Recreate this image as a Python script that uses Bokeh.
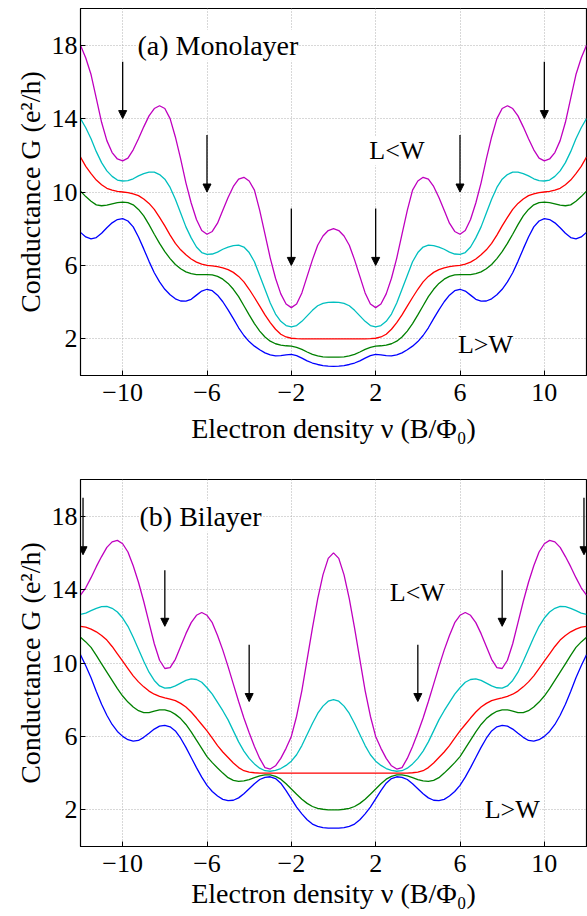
from bokeh.plotting import figure
from bokeh.layouts import column
from bokeh.models import Label, Arrow, NormalHead, FixedTicker, ColumnDataSource, Range1d
from bokeh.embed import file_html
from bokeh.resources import INLINE

# ---------------- data ----------------
nu = [-12.0, -11.75, -11.5, -11.25, -11.0, -10.75, -10.5, -10.25, -10.0, -9.75, -9.5, -9.25,
      -9.0, -8.75, -8.5, -8.25, -8.0, -7.75, -7.5, -7.25, -7.0, -6.75, -6.5, -6.25,
      -6.0, -5.75, -5.5, -5.25, -5.0, -4.75, -4.5, -4.25, -4.0, -3.75, -3.5, -3.25,
      -3.0, -2.75, -2.5, -2.25, -2.0, -1.75, -1.5, -1.25, -1.0, -0.75, -0.5, -0.25,
      0.0, 0.25, 0.5, 0.75, 1.0, 1.25, 1.5, 1.75, 2.0, 2.25, 2.5, 2.75,
      3.0, 3.25, 3.5, 3.75, 4.0, 4.25, 4.5, 4.75, 5.0, 5.25, 5.5, 5.75,
      6.0, 6.25, 6.5, 6.75, 7.0, 7.25, 7.5, 7.75, 8.0, 8.25, 8.5, 8.75,
      9.0, 9.25, 9.5, 9.75, 10.0, 10.25, 10.5, 10.75, 11.0, 11.25, 11.5, 11.75, 12.0]

# (a) Monolayer
mono_magenta = [18.0, 17.3, 16.4, 15.1, 13.8, 12.8, 12.15, 11.8, 11.7, 11.85, 12.3, 12.9, 13.55, 14.15, 14.55, 14.7,
                14.55, 14.0, 13.0, 11.8, 10.5, 9.4, 8.5, 7.9, 7.7, 7.85, 8.3, 9.0, 9.7, 10.3, 10.7, 10.8,
                10.6, 10.1, 9.0, 7.7, 6.4, 5.3, 4.45, 3.9, 3.7, 3.9, 4.5, 5.4, 6.3, 7.1, 7.6, 7.9, 8.0,
                7.9, 7.6, 7.1, 6.3, 5.4, 4.5, 3.9, 3.7, 3.9, 4.45, 5.3, 6.4, 7.7, 9.0, 10.1, 10.6,
                10.8, 10.7, 10.3, 9.7, 9.0, 8.3, 7.85, 7.7, 7.9, 8.5, 9.4, 10.5, 11.8, 13.0, 14.0, 14.55,
                14.7, 14.55, 14.15, 13.55, 12.9, 12.3, 11.85, 11.7, 11.8, 12.15, 12.8, 13.8, 15.1, 16.4, 17.3, 18.0]
mono_cyan = [14.0, 13.5, 12.9, 12.2, 11.6, 11.15, 10.85, 10.65, 10.6, 10.62, 10.72, 10.88, 11.0, 11.08, 11.08, 10.95,
             10.7, 10.25, 9.6, 8.85, 8.1, 7.5, 7.0, 6.7, 6.6, 6.62, 6.72, 6.88, 7.0, 7.08, 7.1, 7.0,
             6.7, 6.2, 5.45, 4.7, 3.95, 3.35, 2.95, 2.72, 2.65, 2.72, 2.95, 3.25, 3.55, 3.8, 3.93, 3.99, 4.0,
             3.99, 3.93, 3.8, 3.55, 3.25, 2.95, 2.72, 2.65, 2.72, 2.95, 3.35, 3.95, 4.7, 5.45, 6.2, 6.7,
             7.0, 7.1, 7.08, 7.0, 6.88, 6.72, 6.62, 6.6, 6.7, 7.0, 7.5, 8.1, 8.85, 9.6, 10.25, 10.7,
             10.95, 11.08, 11.08, 11.0, 10.88, 10.72, 10.62, 10.6, 10.65, 10.85, 11.15, 11.6, 12.2, 12.9, 13.5, 14.0]
mono_red = [11.9, 11.4, 11.0, 10.65, 10.4, 10.2, 10.1, 10.03, 10.0, 9.97, 9.9, 9.8, 9.62, 9.38, 9.05, 8.62,
            8.15, 7.65, 7.2, 6.85, 6.58, 6.35, 6.18, 6.07, 6.0, 5.97, 5.93, 5.87, 5.77, 5.62, 5.4, 5.1,
            4.7, 4.25, 3.78, 3.3, 2.88, 2.52, 2.25, 2.1, 2.03, 2.01, 2.0, 2.0, 2.0, 2.0, 2.0, 2.0, 2.0,
            2.0, 2.0, 2.0, 2.0, 2.0, 2.0, 2.01, 2.03, 2.1, 2.25, 2.52, 2.88, 3.3, 3.78, 4.25, 4.7,
            5.1, 5.4, 5.62, 5.77, 5.87, 5.93, 5.97, 6.0, 6.07, 6.18, 6.35, 6.58, 6.85, 7.2, 7.65, 8.15,
            8.62, 9.05, 9.38, 9.62, 9.8, 9.9, 9.97, 10.0, 10.03, 10.1, 10.2, 10.4, 10.65, 11.0, 11.4, 11.9]
mono_green = [10.05, 9.75, 9.5, 9.3, 9.25, 9.28, 9.35, 9.42, 9.45, 9.42, 9.3, 9.05, 8.7, 8.22, 7.7, 7.2,
              6.75, 6.37, 6.05, 5.82, 5.65, 5.55, 5.5, 5.5, 5.5, 5.48, 5.4, 5.25, 5.02, 4.7, 4.3, 3.8,
              3.3, 2.83, 2.42, 2.1, 1.87, 1.73, 1.66, 1.62, 1.6, 1.53, 1.42, 1.28, 1.15, 1.07, 1.02, 1.0, 1.0,
              1.0, 1.02, 1.07, 1.15, 1.28, 1.42, 1.53, 1.6, 1.62, 1.66, 1.73, 1.87, 2.1, 2.42, 2.83, 3.3,
              3.8, 4.3, 4.7, 5.02, 5.25, 5.4, 5.48, 5.5, 5.5, 5.5, 5.55, 5.65, 5.82, 6.05, 6.37, 6.75,
              7.2, 7.7, 8.22, 8.7, 9.05, 9.3, 9.42, 9.45, 9.42, 9.35, 9.28, 9.25, 9.3, 9.5, 9.75, 10.05]
mono_blue = [7.8, 7.55, 7.45, 7.52, 7.75, 8.05, 8.32, 8.5, 8.55, 8.42, 8.1, 7.55, 6.9, 6.22, 5.6, 5.1,
             4.7, 4.4, 4.18, 4.06, 4.05, 4.15, 4.38, 4.6, 4.7, 4.62, 4.38, 4.02, 3.58, 3.1, 2.6, 2.18,
             1.85, 1.6, 1.4, 1.23, 1.12, 1.07, 1.08, 1.12, 1.15, 1.08, 0.95, 0.8, 0.68, 0.6, 0.54, 0.51, 0.5,
             0.51, 0.54, 0.6, 0.68, 0.8, 0.95, 1.08, 1.15, 1.12, 1.08, 1.07, 1.12, 1.23, 1.4, 1.6, 1.85,
             2.18, 2.6, 3.1, 3.58, 4.02, 4.38, 4.62, 4.7, 4.6, 4.38, 4.15, 4.05, 4.06, 4.18, 4.4, 4.7,
             5.1, 5.6, 6.22, 6.9, 7.55, 8.1, 8.42, 8.55, 8.5, 8.32, 8.05, 7.75, 7.52, 7.45, 7.55, 7.8]

# (b) Bilayer
bi_magenta = [13.7, 14.1, 14.65, 15.25, 15.8, 16.3, 16.6, 16.68, 16.5, 16.05, 15.3, 14.4, 13.35, 12.2, 11.05, 10.15,
              9.7, 9.75, 10.2, 10.9, 11.6, 12.2, 12.6, 12.75, 12.6, 12.2, 11.5, 10.7, 9.8, 8.85, 7.9, 7.0,
              6.2, 5.45, 4.8, 4.3, 4.22, 4.4, 4.8, 5.35, 6.0, 7.1, 8.5, 10.2, 11.9, 13.5, 14.8, 15.7, 16.0,
              15.7, 14.8, 13.5, 11.9, 10.2, 8.5, 7.1, 6.0, 5.35, 4.8, 4.4, 4.22, 4.3, 4.8, 5.45, 6.2,
              7.0, 7.9, 8.85, 9.8, 10.7, 11.5, 12.2, 12.6, 12.75, 12.6, 12.2, 11.6, 10.9, 10.2, 9.75, 9.7,
              10.15, 11.05, 12.2, 13.35, 14.4, 15.3, 16.05, 16.5, 16.68, 16.6, 16.3, 15.8, 15.25, 14.65, 14.1, 13.7]
bi_cyan = [12.65, 12.72, 12.85, 12.98, 13.07, 13.08, 12.98, 12.78, 12.45, 12.0, 11.4, 10.75, 10.1, 9.5, 9.05, 8.75,
           8.63, 8.65, 8.75, 8.9, 9.05, 9.13, 9.1, 8.95, 8.65, 8.3, 7.85, 7.4, 6.9, 6.3, 5.7, 5.2,
           4.8, 4.5, 4.27, 4.13, 4.1, 4.15, 4.25, 4.42, 4.65, 5.0, 5.5, 6.1, 6.7, 7.25, 7.65, 7.92, 8.0,
           7.92, 7.65, 7.25, 6.7, 6.1, 5.5, 5.0, 4.65, 4.42, 4.25, 4.15, 4.1, 4.13, 4.27, 4.5, 4.8,
           5.2, 5.7, 6.3, 6.9, 7.4, 7.85, 8.3, 8.65, 8.95, 9.1, 9.13, 9.05, 8.9, 8.75, 8.65, 8.63,
           8.75, 9.05, 9.5, 10.1, 10.75, 11.4, 12.0, 12.45, 12.78, 12.98, 13.08, 13.07, 12.98, 12.85, 12.72, 12.65]
bi_red = [12.0, 11.95, 11.85, 11.7, 11.5, 11.25, 10.9, 10.5, 10.1, 9.7, 9.3, 8.97, 8.7, 8.47, 8.3, 8.18,
          8.1, 8.03, 7.95, 7.8, 7.6, 7.33, 7.0, 6.65, 6.3, 5.9, 5.5, 5.15, 4.85, 4.55, 4.3, 4.13,
          4.05, 4.02, 4.0, 4.0, 4.0, 4.0, 4.0, 4.0, 4.0, 4.0, 4.0, 4.0, 4.0, 4.0, 4.0, 4.0, 4.0,
          4.0, 4.0, 4.0, 4.0, 4.0, 4.0, 4.0, 4.0, 4.0, 4.0, 4.0, 4.0, 4.0, 4.0, 4.02, 4.05,
          4.13, 4.3, 4.55, 4.85, 5.15, 5.5, 5.9, 6.3, 6.65, 7.0, 7.33, 7.6, 7.8, 7.95, 8.03, 8.1,
          8.18, 8.3, 8.47, 8.7, 8.97, 9.3, 9.7, 10.1, 10.5, 10.9, 11.25, 11.5, 11.7, 11.85, 11.95, 12.0]
bi_green = [11.4, 11.15, 10.85, 10.42, 9.95, 9.5, 9.05, 8.6, 8.2, 7.87, 7.6, 7.4, 7.3, 7.3, 7.38, 7.45,
            7.45, 7.37, 7.2, 6.97, 6.65, 6.25, 5.8, 5.35, 4.9, 4.57, 4.28, 4.0, 3.75, 3.6, 3.55, 3.58,
            3.65, 3.75, 3.85, 3.9, 3.9, 3.82, 3.67, 3.42, 3.13, 2.85, 2.58, 2.35, 2.18, 2.08, 2.03, 2.0, 2.0,
            2.0, 2.03, 2.08, 2.18, 2.35, 2.58, 2.85, 3.13, 3.42, 3.67, 3.82, 3.9, 3.9, 3.85, 3.75, 3.65,
            3.58, 3.55, 3.6, 3.75, 4.0, 4.28, 4.57, 4.9, 5.35, 5.8, 6.25, 6.65, 6.97, 7.2, 7.37, 7.45,
            7.45, 7.38, 7.3, 7.3, 7.4, 7.6, 7.87, 8.2, 8.6, 9.05, 9.5, 9.95, 10.42, 10.85, 11.15, 11.4]
bi_blue = [10.45, 9.85, 9.2, 8.45, 7.75, 7.15, 6.65, 6.27, 6.0, 5.82, 5.74, 5.78, 5.95, 6.17, 6.4, 6.56,
           6.6, 6.52, 6.3, 5.9, 5.4, 4.85, 4.3, 3.78, 3.33, 3.0, 2.75, 2.57, 2.5, 2.52, 2.65, 2.88,
           3.15, 3.42, 3.65, 3.77, 3.8, 3.7, 3.45, 3.05, 2.6, 2.15, 1.78, 1.46, 1.22, 1.1, 1.03, 1.0, 1.0,
           1.0, 1.03, 1.1, 1.22, 1.46, 1.78, 2.15, 2.6, 3.05, 3.45, 3.7, 3.8, 3.77, 3.65, 3.42, 3.15,
           2.88, 2.65, 2.52, 2.5, 2.57, 2.75, 3.0, 3.33, 3.78, 4.3, 4.85, 5.4, 5.9, 6.3, 6.52, 6.6,
           6.56, 6.4, 6.17, 5.95, 5.78, 5.74, 5.82, 6.0, 6.27, 6.65, 7.15, 7.75, 8.45, 9.2, 9.85, 10.45]

# arrows: x position, start (top) and tip values
mono_arrow_x = [-10, -6, -2, 2, 6, 10]
mono_arrow_top = [17.1, 13.1, 9.1, 9.1, 13.1, 17.1]
mono_arrow_tip = [14.0, 10.0, 6.0, 6.0, 10.0, 14.0]
bi_arrow_x = [-11.88, -8, -4, 4, 8, 11.88]
bi_arrow_top = [19.0, 15.05, 11.0, 11.0, 15.05, 19.0]
bi_arrow_tip = [15.9, 12.0, 7.9, 7.9, 12.0, 15.9]

x_ticks = [-10, -6, -2, 2, 6, 10]
y_ticks = [2, 6, 10, 14, 18]
x_tick_labels = {-10: "\u221210", -6: "\u22126", -2: "\u22122", 2: "2", 6: "6", 10: "10"}

colors = {"blue": "#0000ff", "green": "#008000", "red": "#ff0000",
          "cyan": "#00bfbf", "magenta": "#bf00bf"}

FONT = "'Liberation Serif', 'Times New Roman', Times, serif"


def make_panel(curves, ax, atop, atip, texts, top, bottom, tick_standoff, label_standoff):
    p = figure(width=587, height=top + 367 + bottom,
               x_range=Range1d(-12, 12), y_range=Range1d(0, 20),
               output_backend="svg", toolbar_location=None,
               min_border_left=80, min_border_right=1,
               min_border_top=top, min_border_bottom=bottom,
               background_fill_color="white", border_fill_color="white")
    p.outline_line_color = "black"
    p.outline_line_width = 1.2
    p.outline_line_alpha = 1.0

    p.xaxis.ticker = FixedTicker(ticks=x_ticks)
    p.yaxis.ticker = FixedTicker(ticks=y_ticks)
    p.xaxis.major_label_overrides = x_tick_labels
    for axis in (p.xaxis, p.yaxis):
        axis.major_tick_in = 5
        axis.major_tick_out = 0
        axis.minor_tick_line_color = None
        axis.axis_line_color = "black"
        axis.major_tick_line_color = "black"
        axis.major_label_text_font = FONT
        axis.major_label_text_font_size = "26px"
        axis.major_label_text_color = "black"
        axis.axis_label_text_font = FONT
        axis.axis_label_text_font_size = "28px"
        axis.axis_label_text_font_style = "normal"
        axis.axis_label_text_color = "black"
    p.xaxis.major_label_standoff = tick_standoff
    p.yaxis.major_label_standoff = 3
    p.xaxis.axis_label_standoff = label_standoff
    p.yaxis.axis_label_standoff = 3
    p.xaxis.axis_label = "Electron density \u03bd (B/\u03a6\u2080)"
    p.yaxis.axis_label = "Conductance G (e\u00b2/h)"

    for g in (p.xgrid, p.ygrid):
        g.grid_line_color = "#b0b0b0"
        g.grid_line_dash = "1 2"
        g.grid_line_width = 1

    for name, ys in curves:
        p.line(nu, ys, line_color=colors[name], line_width=1.3)

    src = ColumnDataSource(dict(x=ax, y0=atop, y1=atip))
    p.add_layout(Arrow(end=NormalHead(size=8, fill_color="black", line_color="black", line_width=1),
                       x_start="x", y_start="y0", x_end="x", y_end="y1", source=src,
                       line_color="black", line_width=1.3))

    for (tx, ty, tt, fs) in texts:
        p.add_layout(Label(x=tx, y=ty, text=tt, text_font=FONT, text_font_size=fs,
                           text_color="black", text_baseline="middle", text_align="left",
                           background_fill_color="white", background_fill_alpha=1.0))
    return p


mono_texts = [(-9.3, 18.0, "(a) Monolayer", "28px"), (1.7, 12.25, "L<W", "26px"), (5.9, 1.7, "L>W", "26px")]
bi_texts = [(-9.2, 18.0, "(b) Bilayer", "28px"), (2.67, 13.85, "L<W", "26px"), (7.17, 2.0, "L>W", "26px")]

pa = make_panel([("blue", mono_blue), ("green", mono_green), ("red", mono_red),
                 ("cyan", mono_cyan), ("magenta", mono_magenta)],
                mono_arrow_x, mono_arrow_top, mono_arrow_tip, mono_texts, 8, 95, 8, 9)
pb = make_panel([("blue", bi_blue), ("green", bi_green), ("red", bi_red),
                 ("cyan", bi_cyan), ("magenta", bi_magenta)],
                bi_arrow_x, bi_arrow_top, bi_arrow_tip, bi_texts, 9, 69, 8, 3)

layout = column(pa, pb, spacing=0)
open("out.html", "w").write(file_html(layout, INLINE))
